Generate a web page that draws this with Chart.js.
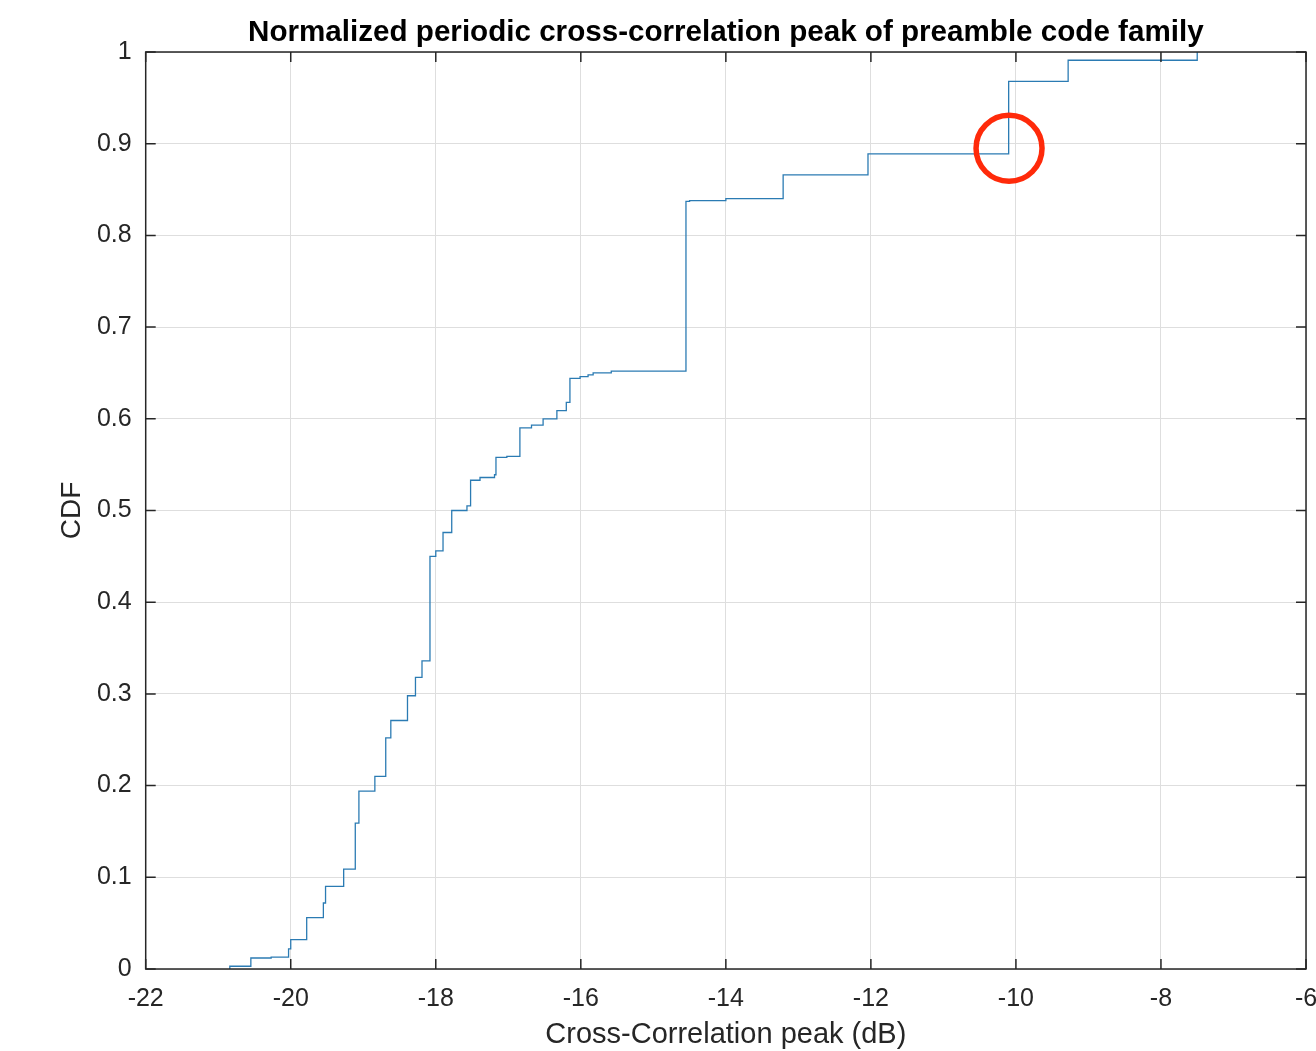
<!DOCTYPE html>
<html>
<head>
<meta charset="utf-8">
<script src="https://cdn.jsdelivr.net/npm/chart.js@4/dist/chart.umd.min.js"></script>
<style>
  html, body { margin: 0; padding: 0; background: #ffffff; overflow: hidden; }
  canvas { display: block; }
</style>
</head>
<body>
<canvas id="cdf" width="1316" height="1051"></canvas>
<script>
// Text
const titleText = 'Normalized periodic cross-correlation peak of preamble code family';
const xAxisLabel = 'Cross-Correlation peak (dB)';
const yAxisLabel = 'CDF';

// Tick labels
const xTickLabels = ['-22', '-20', '-18', '-16', '-14', '-12', '-10', '-8', '-6'];
const yTickLabels = ['0', '0.1', '0.2', '0.3', '0.4', '0.5', '0.6', '0.7', '0.8', '0.9', '1'];

// Empirical CDF: peak value (dB) and the CDF level reached at that value
const peakDb = [
  -20.84, -20.84, -20.55, -20.27, -20.03, -20.00, -19.78, -19.55, -19.52, -19.27,
  -19.11, -19.06, -18.84, -18.69, -18.62, -18.39, -18.28, -18.19, -18.08, -18.00,
  -17.90, -17.78, -17.57, -17.52, -17.39, -17.19, -17.17, -17.02, -16.84, -16.68,
  -16.52, -16.33, -16.20, -16.15, -16.01, -15.90, -15.83, -15.58, -14.55, -14.50,
  -14.00, -13.21, -12.04, -10.10, -9.28, -7.50
];
const cdfLevel = [
  0.000, 0.003, 0.012, 0.013, 0.022, 0.032, 0.056, 0.072, 0.090, 0.109,
  0.159, 0.194, 0.210, 0.252, 0.271, 0.298, 0.318, 0.336, 0.450, 0.456,
  0.476, 0.500, 0.505, 0.533, 0.536, 0.539, 0.558, 0.559, 0.590, 0.593,
  0.600, 0.609, 0.618, 0.644, 0.646, 0.648, 0.650, 0.652, 0.837, 0.838,
  0.840, 0.866, 0.889, 0.968, 0.991, 1.000
];

// Highlighted jump (dB, CDF)
const highlightX = [-10.095];
const highlightY = [0.895];

const FONT = "'Liberation Sans', Arial, Helvetica, sans-serif";
const AXIS_COLOR = '#262626';
const TICK_LEN = 10;

// Axes box, inward tick marks on all four sides, and the highlight ring
const framePlugin = {
  id: 'frame',
  afterDatasetsDraw(chart) {
    const { ctx, chartArea: a, scales: { x, y } } = chart;
    ctx.save();
    ctx.strokeStyle = AXIS_COLOR;
    ctx.lineWidth = 1.5;
    ctx.strokeRect(a.left, a.top, a.right - a.left, a.bottom - a.top);
    ctx.beginPath();
    x.ticks.forEach(t => {
      const px = x.getPixelForValue(t.value);
      ctx.moveTo(px, a.bottom); ctx.lineTo(px, a.bottom - TICK_LEN);
      ctx.moveTo(px, a.top); ctx.lineTo(px, a.top + TICK_LEN);
    });
    y.ticks.forEach(t => {
      const py = y.getPixelForValue(t.value);
      ctx.moveTo(a.left, py); ctx.lineTo(a.left + TICK_LEN, py);
      ctx.moveTo(a.right, py); ctx.lineTo(a.right - TICK_LEN, py);
    });
    ctx.stroke();

    ctx.strokeStyle = '#ff2a0a';
    ctx.lineWidth = 5.5;
    highlightX.forEach((hx, i) => {
      ctx.beginPath();
      ctx.arc(x.getPixelForValue(hx), y.getPixelForValue(highlightY[i]), 33, 0, Math.PI * 2);
      ctx.stroke();
    });
    ctx.restore();
  }
};

new Chart(document.getElementById('cdf'), {
  type: 'scatter',
  data: {
    datasets: [{
      data: peakDb.map((v, i) => ({ x: v, y: cdfLevel[i] })),
      showLine: true,
      stepped: 'before',
      borderColor: '#2b7bb3',
      borderWidth: 1.3,
      pointRadius: 0,
      fill: false
    }]
  },
  options: {
    responsive: false,
    animation: false,
    devicePixelRatio: 1,
    layout: { padding: { left: 0, right: 10, top: 0, bottom: 0 } },
    plugins: {
      legend: { display: false },
      tooltip: { enabled: false },
      title: {
        display: true,
        fullSize: false,
        text: titleText,
        color: '#000000',
        font: { family: FONT, size: 29.6, weight: 'bold', lineHeight: 1.2 },
        padding: { top: 15.3, bottom: 1.18 }
      }
    },
    scales: {
      x: {
        type: 'linear',
        min: -22,
        max: -6,
        border: { display: false },
        grid: { color: '#dedede', lineWidth: 1, drawTicks: false },
        ticks: {
          stepSize: 2,
          autoSkip: false,
          maxRotation: 0,
          padding: 15,
          color: AXIS_COLOR,
          font: { family: FONT, size: 25 },
          callback: (v, i) => xTickLabels[i]
        },
        title: {
          display: true,
          text: xAxisLabel,
          color: AXIS_COLOR,
          font: { family: FONT, size: 29, lineHeight: 1.1 },
          padding: { top: 0, bottom: 0 }
        },
        afterFit(scale) {
          scale.height = 82;
          scale.paddingLeft = 0;
          scale.paddingRight = 0;
        }
      },
      y: {
        type: 'linear',
        min: 0,
        max: 1,
        border: { display: false },
        grid: { color: '#dedede', lineWidth: 1, drawTicks: false },
        ticks: {
          stepSize: 0.1,
          autoSkip: false,
          padding: 14,
          color: AXIS_COLOR,
          font: { family: FONT, size: 25 },
          callback: (v, i) => yTickLabels[i]
        },
        title: {
          display: true,
          text: yAxisLabel,
          color: AXIS_COLOR,
          font: { family: FONT, size: 28 },
          padding: { top: 55, bottom: 0 }
        },
        afterFit(scale) {
          scale.width = 145.7;
          scale.paddingTop = 0;
          scale.paddingBottom = 0;
        }
      }
    }
  },
  plugins: [framePlugin]
});
</script>
</body>
</html>
